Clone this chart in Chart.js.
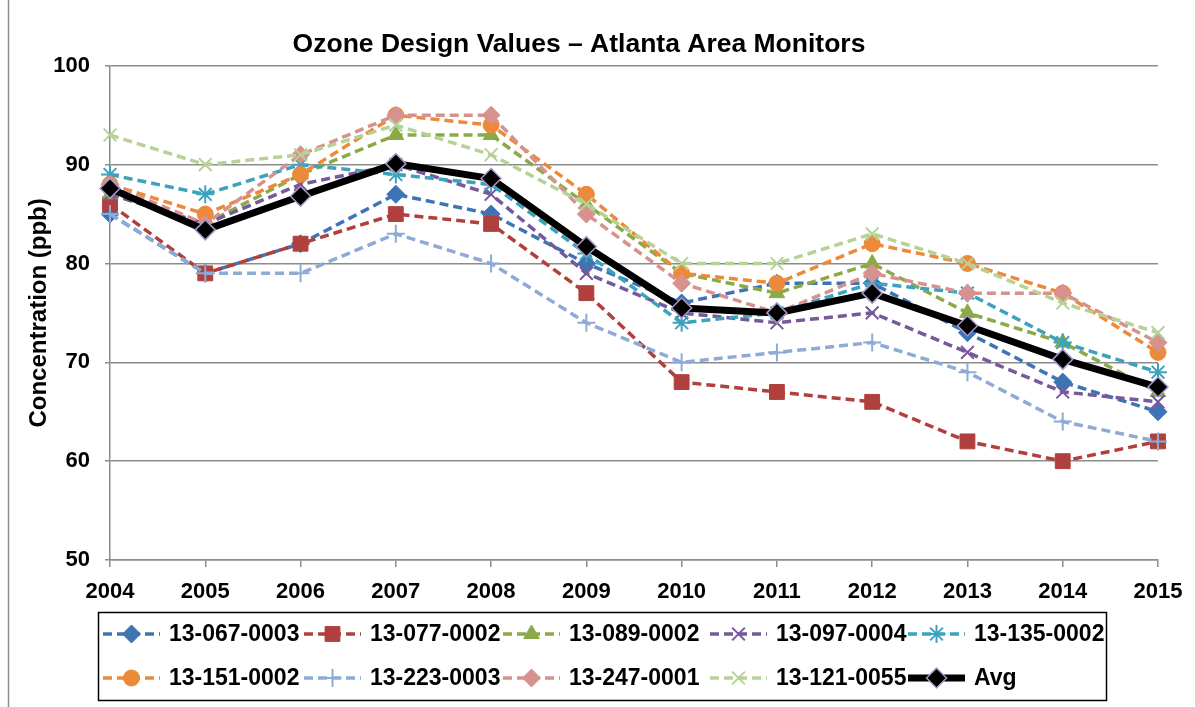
<!DOCTYPE html>
<html>
<head>
<meta charset="utf-8">
<script src="https://cdn.jsdelivr.net/npm/chart.js@4.4.0/dist/chart.umd.min.js"></script>
<style>
  html, body { margin: 0; padding: 0; background: #fff; }
  canvas { display: block; }
</style>
</head>
<body>
<canvas id="chart" width="1195" height="707"></canvas>
<script>
const years = ['2004', '2005', '2006', '2007', '2008', '2009', '2010', '2011', '2012', '2013', '2014', '2015'];

const site0670003 = [85, 79, 82, 87, 85, 80, 76, 78, 78, 73, 68, 65];
const site0770002 = [86, 79, 82, 85, 84, 77, 68, 67, 66, 62, 60, 62];
const site0890002 = [87, 84, 89, 93, 93, 86, 79, 77, 80, 75, 72, 67];
const site0970004 = [87, 84, 88, 90, 87, 79, 75, 74, 75, 71, 67, 66];
const site1350002 = [89, 87, 90, 89, 88, 81, 74, 75, 78, 77, 72, 69];
const site1510002 = [88, 85, 89, 95, 94, 87, 79, 78, 82, 80, 77, 71];
const site2230003 = [85, 79, 79, 83, 80, 74, 70, 71, 72, 69, 64, 62];
const site2470001 = [88, 84, 91, 95, 95, 85, 78, 75, 79, 77, 77, 72];
const site1210055 = [93, 90, 91, 94, 91, 86, 80, 80, 83, 80, 76, 73];
const average = [87.6, 83.4, 86.8, 90.1, 88.6, 81.7, 75.5, 75.0, 77.0, 73.7, 70.3, 67.5];

const FONT = '"Liberation Sans", Arial, sans-serif';

function monitor(label, data, color, style, radius, order) {
    const lineStyle = ['crossRot', 'cross', 'star'].includes(style);
    return {
        label: label,
        data: data,
        borderColor: color,
        backgroundColor: color,
        borderWidth: 3.5,
        borderDash: [9, 5],
        tension: 0,
        pointStyle: style,
        pointRadius: radius,
        pointHoverRadius: radius,
        pointBackgroundColor: color,
        pointBorderColor: color,
        pointBorderWidth: lineStyle ? 2 : 1,
        order: order
    };
}

const datasets = [
    monitor('13-067-0003', site0670003, '#3F74B4', 'rectRot', 9, 10),
    monitor('13-077-0002', site0770002, '#B0403D', 'rect', 10.5, 9),
    monitor('13-089-0002', site0890002, '#8AAA47', 'triangle', 9, 8),
    monitor('13-097-0004', site0970004, '#76599B', 'crossRot', 9, 7),
    monitor('13-135-0002', site1350002, '#3CA2BE', 'star', 9, 6),
    monitor('13-151-0002', site1510002, '#EC8A3B', 'circle', 8, 5),
    monitor('13-223-0003', site2230003, '#8EAAD7', 'cross', 9, 4),
    monitor('13-247-0001', site2470001, '#D79290', 'rectRot', 9, 3),
    monitor('13-121-0055', site1210055, '#B7D296', 'crossRot', 9, 2),
    {
        label: 'Avg',
        data: average,
        borderColor: '#000',
        backgroundColor: '#000',
        borderWidth: 7,
        tension: 0,
        pointStyle: 'rectRot',
        pointRadius: 10,
        pointHoverRadius: 10,
        pointBackgroundColor: '#000',
        pointBorderColor: '#A596C6',
        pointBorderWidth: 1.5,
        order: 0
    }
];

// outer frame line on the left edge
const frame = {
    id: 'frame',
    beforeDraw(chart) {
        const ctx = chart.ctx;
        ctx.save();
        ctx.strokeStyle = '#8C8C8C';
        ctx.lineWidth = 1.5;
        ctx.beginPath();
        ctx.moveTo(8.5, 0);
        ctx.lineTo(8.5, 707);
        ctx.stroke();
        ctx.restore();
    }
};

// Excel style legend: boxed, two rows, line + marker + label
const boxLegend = {
    id: 'boxLegend',
    afterDraw(chart) {
        const ctx = chart.ctx;
        const cols = [103, 304, 503, 710, 908];
        const rows = [634, 678];
        ctx.save();
        ctx.strokeStyle = '#000';
        ctx.lineWidth = 1.5;
        ctx.strokeRect(98.5, 612.5, 1008, 88);

        chart.data.datasets.forEach((ds, i) => {
            const x = cols[i % 5];
            const y = rows[Math.floor(i / 5)];
            ctx.strokeStyle = ds.borderColor;
            ctx.lineWidth = ds.borderWidth;
            ctx.setLineDash(ds.borderDash || []);
            ctx.beginPath();
            ctx.moveTo(x, y);
            ctx.lineTo(x + 57, y);
            ctx.stroke();
            ctx.setLineDash([]);

            ctx.fillStyle = ds.pointBackgroundColor;
            ctx.strokeStyle = ds.pointBorderColor;
            ctx.lineWidth = ds.pointBorderWidth;
            Chart.helpers.drawPoint(ctx, {
                pointStyle: ds.pointStyle,
                radius: ds.pointRadius,
                borderWidth: ds.pointBorderWidth,
                rotation: 0
            }, x + 28.5, y);

            ctx.fillStyle = '#000';
            ctx.font = 'bold 23px ' + FONT;
            ctx.textBaseline = 'middle';
            ctx.textAlign = 'left';
            ctx.fillText(ds.label, x + 66, y + 1);
        });
        ctx.restore();
    }
};

new Chart(document.getElementById('chart'), {
    type: 'line',
    data: { labels: years, datasets: datasets },
    plugins: [frame, boxLegend],
    options: {
        responsive: false,
        animation: false,
        devicePixelRatio: 1,
        layout: { padding: { top: 0, right: 37, bottom: 100, left: 0 } },
        scales: {
            x: {
                offset: false,
                afterFit: (scale) => { scale.height = 47; },
                border: { color: '#8C8C8C', width: 1.5 },
                grid: {
                    drawOnChartArea: false,
                    drawTicks: true,
                    tickLength: 7,
                    color: '#8C8C8C',
                    lineWidth: 1.5
                },
                ticks: {
                    color: '#000',
                    padding: 12,
                    maxRotation: 0,
                    autoSkip: false,
                    font: { family: FONT, size: 22, weight: 'bold' }
                }
            },
            y: {
                min: 50,
                max: 100,
                afterFit: (scale) => { scale.width = 110; },
                border: { color: '#8C8C8C', width: 1.5 },
                grid: {
                    color: '#8C8C8C',
                    lineWidth: 1.5,
                    tickLength: 5
                },
                ticks: {
                    stepSize: 10,
                    color: '#000',
                    padding: 15,
                    font: { family: FONT, size: 22, weight: 'bold' }
                },
                title: {
                    display: true,
                    text: 'Concentration (ppb)',
                    color: '#000',
                    padding: { top: 25, bottom: 0 },
                    font: { family: FONT, size: 24, weight: 'bold' }
                }
            }
        },
        plugins: {
            legend: { display: false },
            title: {
                display: true,
                text: 'Ozone Design Values – Atlanta Area Monitors',
                color: '#000',
                padding: { top: 29, bottom: 5 },
                font: { family: FONT, size: 26.5, weight: 'bold' }
            },
            tooltip: { enabled: true }
        }
    }
});
</script>
</body>
</html>
